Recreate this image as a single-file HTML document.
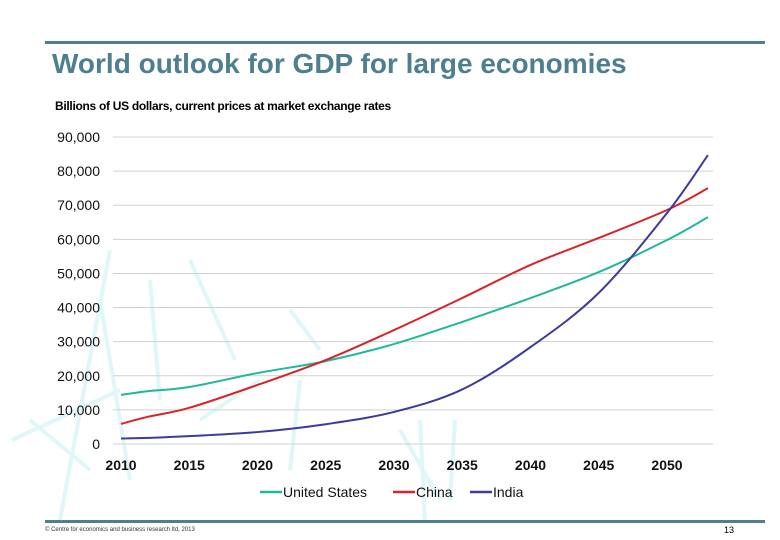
<!DOCTYPE html>
<html><head><meta charset="utf-8"><style>
body{margin:0;width:780px;height:540px;background:#fff;position:relative;overflow:hidden;font-family:"Liberation Sans",sans-serif}
.bar{position:absolute;left:45px;width:720px;height:3px;background:#4e7f8e}
</style></head><body>
<div class="bar" style="top:41px"></div>
<div style="position:absolute;left:52px;top:48px;font-size:28px;font-weight:bold;color:#4e7f8e">World outlook for GDP for large economies</div>
<div style="position:absolute;left:55px;top:99px;font-size:12px;font-weight:bold;color:#000;letter-spacing:-0.3px">Billions of US dollars, current prices at market exchange rates</div>
<div class="bar" style="top:520px"></div>
<div style="position:absolute;left:45px;top:527px;font-size:6px;color:#333">© Centre for economics and business research ltd, 2013</div>
<div style="position:absolute;left:724px;top:525px;font-size:9px;color:#000">13</div>
<svg id="c" width="780" height="540" style="position:absolute;left:0;top:0">
<g stroke="#d2f4f6" stroke-width="4" fill="none" opacity="0.7">
<path d="M12 440 L120 390 M60 520 L110 250 M190 260 L235 360 M150 280 L160 400 M200 420 L260 380 M290 310 L320 350 M300 380 L290 470 M400 430 L440 500 M420 420 L425 520 M455 420 L450 500 M30 420 L90 470 M100 300 L130 480"/>
</g>
<g id="grid"></g><g id="lines"></g><g id="labels"></g>
</svg>
<script>
const years=[2010,2012,2015,2020,2025,2030,2035,2040,2045,2050,2053];
const us=[14400,15500,16700,20800,24300,29300,35800,42800,50400,59800,66500];
const china=[5900,8000,10600,17300,24600,33400,42800,52500,60400,68600,75000];
const india=[1600,1800,2300,3500,5800,9400,16000,28400,44300,67700,84700];
const yTicks=[0,10000,20000,30000,40000,50000,60000,70000,80000,90000];
const yTickLabels=["0","10,000","20,000","30,000","40,000","50,000","60,000","70,000","80,000","90,000"];
const xTicks=[2010,2015,2020,2025,2030,2035,2040,2045,2050];
const seriesNames=["United States","China","India"];
const ns="http://www.w3.org/2000/svg";
const X=y=>121+(y-2010)*13.65, Y=v=>444-v*0.003411;
function mk(t,a,p){const e=document.createElementNS(ns,t);for(const k in a)e.setAttribute(k,a[k]);p.appendChild(e);return e;}
const g=document.getElementById('grid'),L=document.getElementById('labels'),ln=document.getElementById('lines');
yTicks.forEach((v,i)=>{
 const l=mk('line',{x1:113,x2:713,y1:Y(v),y2:Y(v),stroke:'#d0d0d0','stroke-width':1},g);
 
 
 const t=mk('text',{x:100,y:Y(v)+5,'text-anchor':'end','font-size':14,fill:'#111'},L);t.textContent=yTickLabels[i];
 
 
});
xTicks.forEach(yr=>{
 const t=mk('text',{x:X(yr),y:470,'text-anchor':'middle','font-size':14,'font-weight':'bold',fill:'#111'},L);t.textContent=yr;
 
 
});
function smooth(pts){let d='M'+pts[0].join(' ');for(let i=0;i<pts.length-1;i++){const p0=pts[i-1]||pts[i],p1=pts[i],p2=pts[i+1],p3=pts[i+2]||p2;
 d+=` C${p1[0]+(p2[0]-p0[0])/6} ${p1[1]+(p2[1]-p0[1])/6} ${p2[0]-(p3[0]-p1[0])/6} ${p2[1]-(p3[1]-p1[1])/6} ${p2[0]} ${p2[1]}`;}return d;}
[[us,'#20b89a','line-united-states'],[china,'#d8232a','line-china'],[india,'#3d3a9c','line-india']].forEach(([s,c,n])=>{
 const p=mk('path',{d:smooth(s.map((v,i)=>[X(years[i]),Y(v)])),stroke:c,'stroke-width':2,fill:'none'},ln);
 
 
});
const lx=[260,393,470],cols=['#20b89a','#d8232a','#3d3a9c'];
seriesNames.forEach((n,i)=>{
 const l=mk('line',{x1:lx[i],x2:lx[i]+22,y1:492,y2:492,stroke:cols[i],'stroke-width':2.5},L);
 
 
 const t=mk('text',{x:lx[i]+23,y:497,'font-size':14,fill:'#111'},L);t.textContent=n;
 
 
});
</script>
</body></html>
